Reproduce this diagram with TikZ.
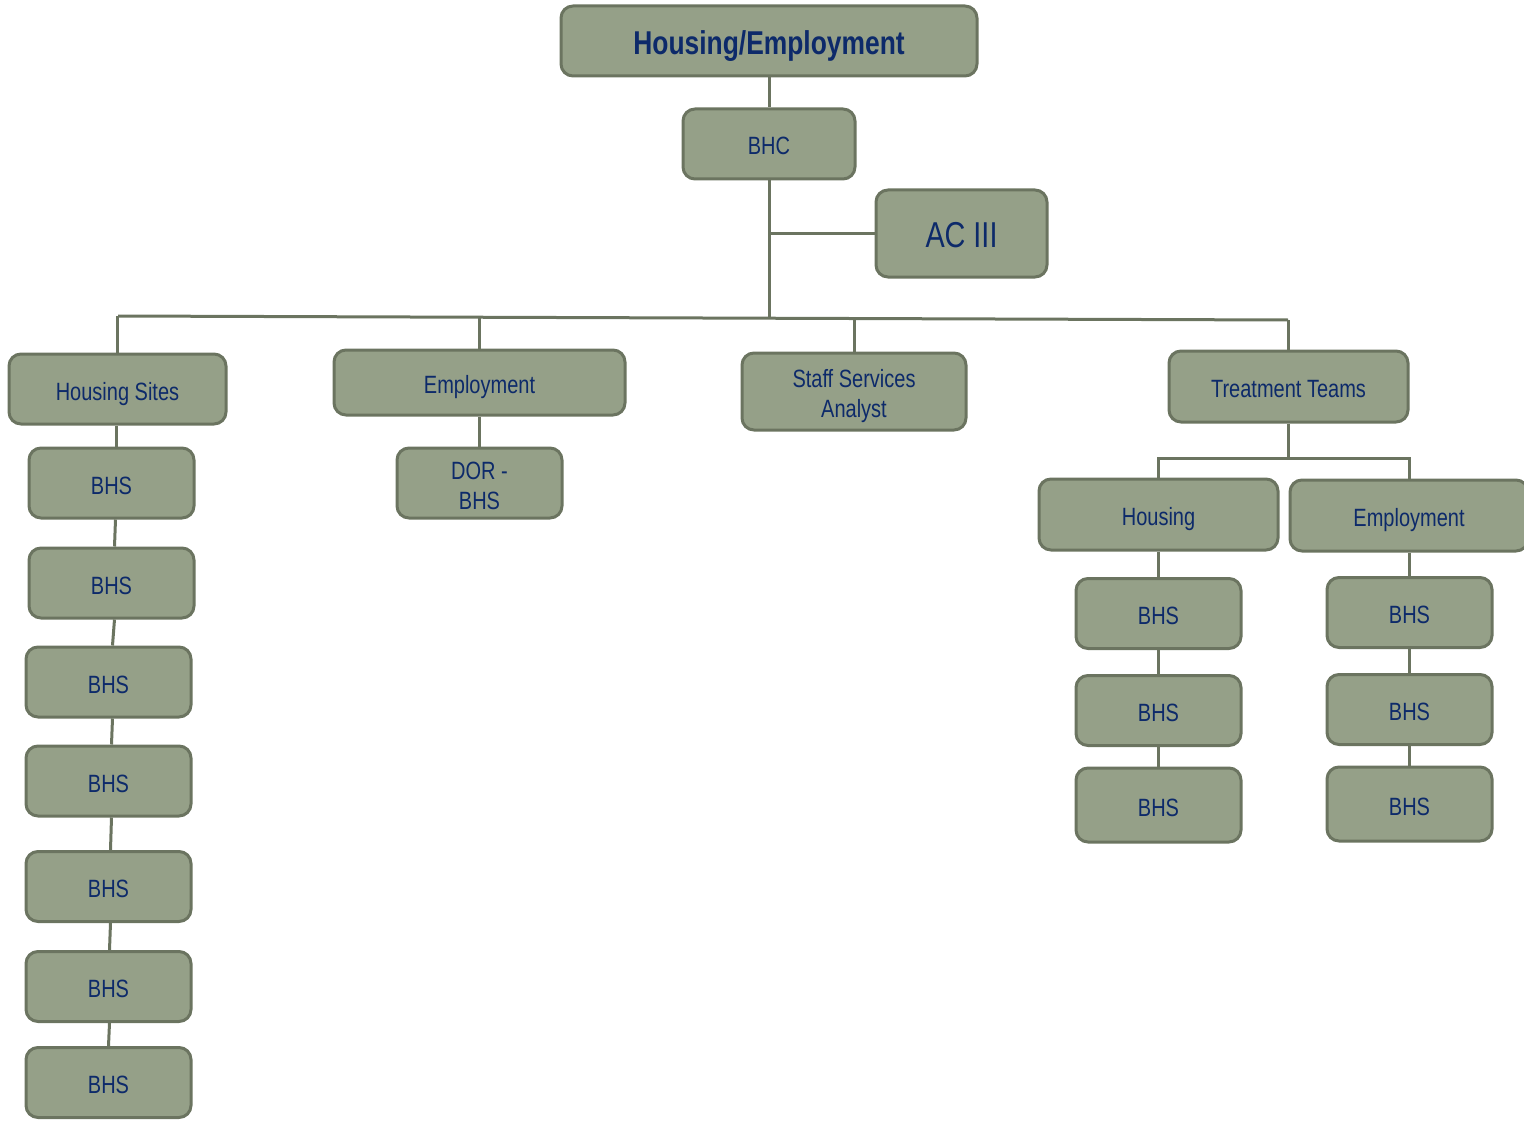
\documentclass[tikz,border=0pt]{standalone}
\usepackage{fontspec}
\setmainfont{Liberation Sans}[FakeStretch=0.8]
\definecolor{boxfill}{HTML}{95A088}
\definecolor{boxline}{HTML}{6B7460}
\definecolor{navy}{HTML}{0D2A6A}
\newcommand{\twolines}[2]{\raisebox{-2.5pt}[\height][\depth]{\begin{tabular}{@{}c@{}}#1\\#2\end{tabular}}}
\begin{document}
\begin{tikzpicture}[x=0.5pt,y=-0.5pt,
  box/.style={draw=boxline, fill=boxfill, line width=1.5pt, rounded corners=6pt,
    inner sep=0pt, align=center, text=navy, font=\fontsize{12.5}{15}\selectfont},
  one/.style={text height=11pt, text depth=0pt},
  link/.style={draw=boxline, line width=1.5pt}]
\useasboundingbox (0,0) rectangle (1524,1123);
% top
\node[box, minimum width=208pt, minimum height=35pt, font=\fontsize{16.5}{19}\selectfont\bfseries, text height=13.5pt, text depth=0pt] (title) at (769,41) {Housing/Employment};
\node[box, one, minimum width=86pt, minimum height=35pt] (bhc) at (769,144) {BHC};
\node[box, minimum width=85.5pt, minimum height=43.5pt, font=\fontsize{18}{21}\selectfont, text height=14pt, text depth=0pt] (ac) at (961.5,233.5) {AC III};
% second level
\node[box, one, minimum width=108.5pt, minimum height=35pt] (hs) at (117.5,389) {Housing Sites};
\node[box, one, minimum width=145.5pt, minimum height=32.5pt] (emp) at (479.5,382.5) {Employment};
\node[box, minimum width=112pt, minimum height=38.5pt] (ssa) at (854,391.5) {\twolines{Staff Services}{Analyst}};
\node[box, one, minimum width=119.5pt, minimum height=35.5pt] (tt) at (1288.5,386.5) {Treatment Teams};
\node[box, minimum width=82.5pt, minimum height=35pt] (dor) at (479.5,483) {\twolines{DOR -}{BHS}};
% left column
\node[box, one, minimum width=82.5pt, minimum height=35pt] (l1) at (111.5,483) {BHS};
\node[box, one, minimum width=82.5pt, minimum height=35pt] (l2) at (111.5,583) {BHS};
\node[box, one, minimum width=82.5pt, minimum height=35pt] (l3) at (108.5,682) {BHS};
\node[box, one, minimum width=82.5pt, minimum height=35pt] (l4) at (108.5,781) {BHS};
\node[box, one, minimum width=82.5pt, minimum height=35pt] (l5) at (108.5,886.5) {BHS};
\node[box, one, minimum width=82.5pt, minimum height=35pt] (l6) at (108.5,986.5) {BHS};
\node[box, one, minimum width=82.5pt, minimum height=35pt] (l7) at (108.5,1082.5) {BHS};
% treatment teams
\node[box, one, minimum width=119.5pt, minimum height=35.5pt] (th) at (1158.5,514.5) {Housing};
\node[box, one, minimum width=119pt, minimum height=35.5pt] (te) at (1409,515.5) {Employment};
\node[box, one, minimum width=82.5pt, minimum height=35pt] (h1) at (1158.5,613.5) {BHS};
\node[box, one, minimum width=82.5pt, minimum height=35pt] (h2) at (1158.5,710.5) {BHS};
\node[box, one, minimum width=82.5pt, minimum height=37pt] (h3) at (1158.5,805) {BHS};
\node[box, one, minimum width=82.5pt, minimum height=35pt] (e1) at (1409.5,612.5) {BHS};
\node[box, one, minimum width=82.5pt, minimum height=35pt] (e2) at (1409.5,709.5) {BHS};
\node[box, one, minimum width=82.5pt, minimum height=37pt] (e3) at (1409.5,804) {BHS};
% connectors
\coordinate (busL) at (118,316);
\coordinate (busR) at (1288,320);
\coordinate (busM) at (769,318);
\coordinate (sub) at (1288.5,458);
\draw[link] (title.south) -- (bhc.north);
\draw[link] (bhc.south) -- (busM);
\draw[link] (bhc.south |- ac.west) -- (ac.west);
\draw[link] (busL) -- (busR);
\draw[link] (hs.north) -- (hs.north |- busL);
\draw[link] (emp.north) -- (emp.north |- busM);
\draw[link] (ssa.north) -- (ssa.north |- busM);
\draw[link] (tt.north) -- (tt.north |- busR);
\draw[link] (emp.south) -- (dor.north);
\draw[link] ([xshift=-0.5pt]hs.south) -- ([xshift=-0.5pt]hs.south |- l1.north);
\draw[link] ([xshift=2pt]l1.south) -- ([xshift=1.5pt]l2.north);
\draw[link] ([xshift=1.5pt]l2.south) -- ([xshift=2pt]l3.north);
\draw[link] ([xshift=2pt]l3.south) -- ([xshift=1.5pt]l4.north);
\draw[link] ([xshift=1.5pt]l4.south) -- ([xshift=1pt]l5.north);
\draw[link] ([xshift=1pt]l5.south) -- ([xshift=0.5pt]l6.north);
\draw[link] ([xshift=0.5pt]l6.south) -- (l7.north);
\draw[link] (tt.south) -- (sub);
\draw[link] (th.north) -- (th.north |- sub) -- (te.north |- sub) -- (te.north);
\draw[link] (th.south) -- (h1.north);
\draw[link] (h1.south) -- (h2.north);
\draw[link] (h2.south) -- (h3.north);
\draw[link] (e1.north |- te.south) -- (e1.north);
\draw[link] (e1.south) -- (e2.north);
\draw[link] (e2.south) -- (e3.north);
\end{tikzpicture}
\end{document}
